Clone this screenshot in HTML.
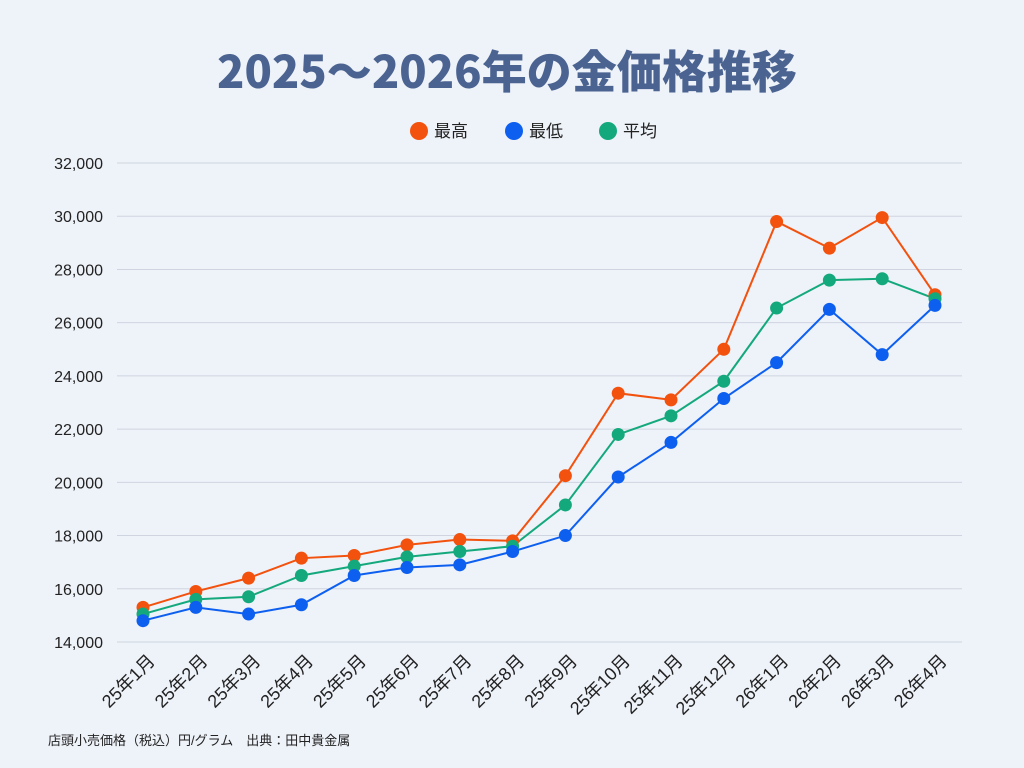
<!DOCTYPE html>
<html><head><meta charset="utf-8"><style>
html,body{margin:0;padding:0;background:#eef2f9;}
svg{display:block;font-family:"Liberation Sans","Noto Sans CJK JP",sans-serif;}
</style></head><body>
<svg id="c" width="1024" height="768" viewBox="0 0 1024 768" xmlns="http://www.w3.org/2000/svg">
<rect width="1024" height="768" fill="#eef2f9"/>
<text x="507" y="88" text-anchor="middle" font-size="45" font-weight="900" fill="#4b6391" font-family="'Noto Sans CJK JP',sans-serif" textLength="580" lengthAdjust="spacingAndGlyphs">2025～2026年の金価格推移</text>
<circle cx="419" cy="131" r="9" fill="#f2520e"/><text x="434" y="137" font-size="17" fill="#222">最高</text>
<circle cx="514" cy="131" r="9" fill="#0d5ff0"/><text x="529" y="137" font-size="17" fill="#222">最低</text>
<circle cx="608" cy="131" r="9" fill="#14a97c"/><text x="623" y="137" font-size="17" fill="#222">平均</text>
<g id="g"></g>
<text x="48" y="745" font-size="13" fill="#222">店頭小売価格（税込）円/グラム　出典：田中貴金属</text>
</svg>
<script>
var g=document.getElementById('g'),s='';
function Y(v){return 642-(v-14000)*0.02661;}
for(var v=14000;v<=32000;v+=2000){var y=Y(v);
s+='<line x1="117" x2="962" y1="'+y+'" y2="'+y+'" stroke="#cfd5e0" stroke-width="1"/>';
s+='<text x="103" y="'+(y+6)+'" text-anchor="end" font-size="16" fill="#222">'+v.toLocaleString('en-US')+'</text>';}
var L=['25年1月','25年2月','25年3月','25年4月','25年5月','25年6月','25年7月','25年8月','25年9月','25年10月','25年11月','25年12月','26年1月','26年2月','26年3月','26年4月'];
function X(i){return 143+i*52.8;}
for(var i=0;i<16;i++){var x=X(i)+13,y=662;
s+='<text transform="translate('+x+','+y+') rotate(-45)" text-anchor="end" font-size="18" fill="#222">'+L[i]+'</text>';}
var D=[
['#f2520e',[15300,15900,16400,17150,17250,17650,17850,17800,20250,23350,23100,25000,29800,28800,29950,27050]],
['#14a97c',[15050,15600,15700,16500,16850,17200,17400,17600,19150,21800,22500,23800,26550,27600,27650,26900]],
['#0d5ff0',[14800,15300,15050,15400,16500,16800,16900,17400,18000,20200,21500,23150,24500,26500,24800,26650]]];
var out='';
D.forEach(function(d){var p=d[1].map(function(v,i){return X(i)+','+Y(v)}).join(' ');
out+='<polyline points="'+p+'" fill="none" stroke="'+d[0]+'" stroke-width="2"/>';});
D.forEach(function(d){d[1].forEach(function(v,i){out+='<circle cx="'+X(i)+'" cy="'+Y(v)+'" r="6.5" fill="'+d[0]+'"/>';});});
g.innerHTML=s+out;
</script>
</body></html>
